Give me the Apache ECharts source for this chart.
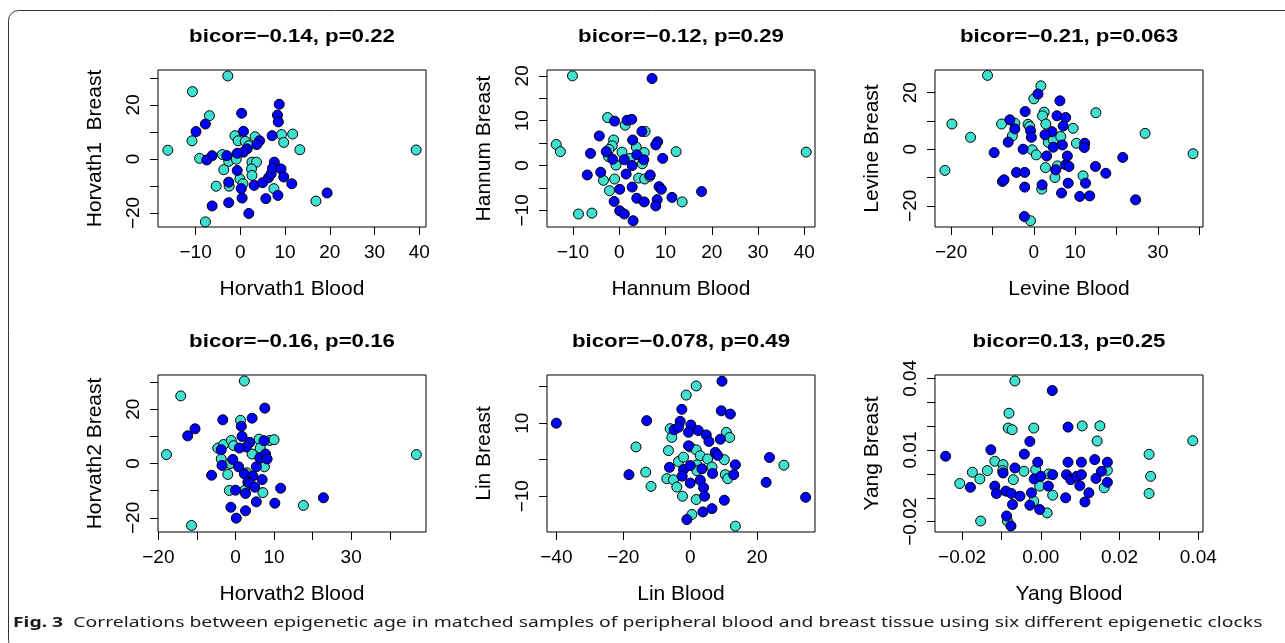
<!DOCTYPE html>
<html lang="en">
<head>
    <meta charset="UTF-8" />
    <title>Fig. 3 epigenetic clocks, blood vs breast</title>
    <script src="https://cdn.jsdelivr.net/npm/echarts@6/dist/echarts.min.js"></script>
    <style>
        html, body { margin: 0; padding: 0; background: #ffffff; }
        #main { width: 1285px; height: 643px; }
    </style>
</head>
<body>
    <div id="main"></div>
    <script type="text/javascript">
        // panel texts
        var panelTitles = ['bicor=\u22120.14, p=0.22', 'bicor=\u22120.12, p=0.29', 'bicor=\u22120.21, p=0.063',
            'bicor=\u22120.16, p=0.16', 'bicor=\u22120.078, p=0.49', 'bicor=0.13, p=0.25'];
        var xNames = ['Horvath1 Blood', 'Hannum Blood', 'Levine Blood', 'Horvath2 Blood', 'Lin Blood', 'Yang Blood'];
        var yNames = ['Horvath1  Breast', 'Hannum Breast', 'Levine Breast', 'Horvath2 Breast', 'Lin Breast', 'Yang Breast'];
        var caption = 'Correlations between epigenetic age in matched samples of peripheral blood and breast tissue using six different epigenetic clocks';

        // axis ranges and ticks
        var xRanges = [[-18.4, 41.5], [-15.6, 42.3], [-23.9, 40.9], [-20.1, 49.4], [-42.8, 37.3], [-0.0269, 0.0412]];
        var yRanges = [[-25.2, 32.9], [-13.7, 21.3], [-27.5, 28.0], [-25.2, 32.6], [-19.8, 23.2], [-0.0243, 0.0414]];
        var xTicks = [[-10, 0, 10, 20, 30, 40], [-10, 0, 10, 20, 30, 40], [-20, -10, 0, 10, 20, 30, 40],
            [-20, -10, 0, 10, 20, 30, 40], [-40, -20, 0, 20], [-0.02, -0.01, 0, 0.01, 0.02, 0.03, 0.04]];
        var xLabels = [[-10, 0, 10, 20, 30, 40], [-10, 0, 10, 20, 30, 40], [-20, 0, 10, 30],
            [-20, 0, 10, 30], [-40, -20, 0, 20], [-0.02, 0, 0.02, 0.04]];
        var yTicks = [[-20, -10, 0, 10, 20, 30], [-10, -5, 0, 5, 10, 15, 20], [-20, -10, 0, 10, 20],
            [-20, -10, 0, 10, 20, 30], [-10, 0, 10, 20], [-0.02, -0.01, 0, 0.01, 0.02, 0.03, 0.04]];
        var yLabels = [[-20, 0, 20], [-10, 0, 10, 20], [-20, 0, 20], [-20, 0, 20], [-10, 10], [-0.02, 0.01, 0.04]];

        // Horvath1
        var horvath1Turq = [[-2.8, 30.7], [-10.7, 24.9], [-6.9, 16.0], [-10.8, 6.7], [-16.2, 3.2], [-9.1, 0.2], [-4.0, 1.6],
            [-2.6, -0.9], [-0.9, -0.1], [-3.7, -4.0], [-5.4, -10.1], [-2.5, -10.1], [-0.1, -7.4], [0.6, -9.2], [-1.2, 8.6],
            [-0.5, 6.7], [1.1, 6.5], [3.3, 8.2], [2.6, -1.2], [3.6, -1.2], [2.5, -3.7], [2.6, -6.1], [7.5, -11.0], [9.2, 9.0],
            [11.7, 9.2], [9.7, 6.1], [13.3, 3.4], [16.9, -15.6], [-7.8, -23.3], [1.9, 4.9], [39.3, 3.3]];
        var horvath1Blue = [[0.3, 16.9], [8.7, 20.2], [8.3, 16.2], [8.5, 13.7], [-7.8, 12.9], [-9.9, 10.1], [0.7, 10.2],
            [7.1, 8.6], [4.3, 6.7], [3.7, 5.3], [1.5, 3.7], [0.7, 2.5], [-0.7, 2.1], [-3.0, 1.2], [-6.3, 1.2], [-7.5, -0.4],
            [-0.7, -4.3], [-2.6, -8.6], [0.2, -11.0], [0.4, -14.5], [3.1, -9.8], [5.0, -8.8], [6.3, -7.0], [6.9, -5.5],
            [7.6, -1.2], [7.2, -3.4], [9.1, -3.7], [9.7, -6.7], [11.5, -9.2], [8.4, -13.5], [5.7, -14.7], [-6.3, -17.4],
            [-2.6, -16.2], [1.9, -20.2], [19.4, -12.6]];

        // Hannum
        var hannumTurq = [[-10.1, 20.0], [-13.6, 4.7], [-12.7, 3.1], [-8.8, -10.8], [-5.9, -10.6], [-2.5, 10.7], [1.3, 9.0],
            [5.6, 7.6], [-1.2, 5.7], [-1.5, 4.4], [-2.2, 3.6], [-2.3, 2.0], [0.6, 3.0], [3.7, 4.1], [5.4, 2.9], [5.0, 0.4],
            [-0.7, 0.1], [-3.4, -3.3], [-1.0, -3.0], [-2.1, -5.6], [4.2, -2.8], [5.5, -3.0], [6.6, -2.4], [12.3, 3.1],
            [13.6, -8.1], [40.4, 3.0], [2.4, 1.6]];
        var hannumBlue = [[7.1, 19.4], [-1.0, 9.9], [1.7, 10.1], [2.7, 10.3], [4.9, 7.6], [-4.3, 6.6], [2.9, 5.7], [8.3, 5.3],
            [7.9, 4.6], [-6.2, 2.7], [-2.8, 3.1], [-1.4, 1.4], [1.1, 1.3], [3.8, 2.4], [5.3, 1.3], [9.4, 1.6], [2.8, 0.0],
            [1.5, -1.9], [-6.9, -2.1], [-4.0, -1.5], [6.7, -2.1], [0.1, -5.3], [2.8, -4.8], [8.6, -4.7], [9.1, -5.3],
            [-1.1, -8.0], [3.8, -7.3], [5.4, -8.1], [8.2, -7.6], [7.9, -9.0], [11.4, -7.1], [17.8, -5.8], [0.1, -10.1],
            [1.1, -10.8], [3.0, -12.3]];

        // Levine
        var levineTurq = [[-11.2, 26.1], [1.7, 22.4], [0.0, 17.8], [-19.8, 8.9], [-15.3, 4.2], [-21.5, -7.5], [-7.8, 8.9],
            [-4.6, 9.2], [-5.2, 4.7], [-1.4, 8.8], [-1.0, 8.0], [2.5, 13.1], [2.1, 11.8], [2.9, 8.9], [3.5, 2.4], [4.7, 3.3],
            [6.5, 4.5], [9.5, 7.4], [10.3, 2.1], [15.0, 12.9], [26.9, 5.6], [38.5, -1.6], [-0.4, -0.2], [0.6, -2.0],
            [2.8, -6.5], [5.7, -5.9], [5.1, -10.0], [11.9, -9.4], [1.9, -14.1], [-0.8, -25.3]];
        var levineBlue = [[1.0, 19.5], [6.3, 17.1], [-2.1, 13.3], [5.6, 11.8], [7.7, 11.2], [-5.8, 10.4], [-4.6, 7.2],
            [7.1, 8.2], [-0.8, 6.5], [4.4, 6.2], [2.7, 5.1], [-0.6, 4.2], [-6.2, 2.5], [6.9, 1.5], [4.7, 0.7], [12.3, 2.1],
            [12.2, 0.6], [-2.6, 0.0], [-9.6, -1.2], [3.1, -2.4], [8.1, -2.4], [7.7, -5.5], [8.5, -6.1], [5.3, -7.3],
            [14.9, -6.1], [21.5, -2.9], [17.4, -8.5], [-4.2, -8.2], [-2.2, -8.2], [-7.6, -11.4], [-7.2, -10.8],
            [-2.2, -13.4], [2.0, -12.6], [8.3, -12.0], [12.5, -12.0], [6.7, -15.5], [11.1, -16.7], [13.5, -16.5],
            [24.6, -17.9], [-2.3, -23.8]];

        // Horvath2
        var horvath2Turq = [[2.3, 30.4], [-14.2, 24.9], [-17.9, 3.3], [-11.4, -22.8], [1.3, 15.9], [-4.6, 5.7], [-3.1, 7.0],
            [-1.1, 8.5], [-0.5, 6.6], [-3.7, 1.7], [-1.4, 0.0], [-2.0, -4.0], [-1.6, -9.9], [2.3, -9.9], [2.9, -3.4],
            [4.3, 3.5], [6.1, 9.0], [8.9, 8.5], [10.0, 8.8], [6.4, 5.7], [7.5, -1.2], [7.1, -10.7], [17.6, -15.4],
            [46.9, 3.3]];
        var horvath2Blue = [[7.6, 20.4], [-3.3, 16.1], [4.3, 16.7], [-10.5, 12.8], [-12.4, 10.2], [1.7, 10.0], [1.5, 13.7],
            [3.7, 7.8], [7.4, 8.4], [-3.7, 5.1], [2.8, 6.1], [1.0, 5.7], [6.3, 2.1], [7.8, 3.5], [8.2, 1.7], [-3.5, -0.7],
            [-0.7, 1.5], [0.8, -1.2], [5.4, -1.2], [-6.2, -4.3], [2.3, -3.8], [4.5, -4.6], [3.2, -6.8], [6.9, -5.9],
            [3.7, -7.3], [5.0, -8.7], [0.0, -9.8], [2.6, -11.0], [11.7, -9.1], [5.4, -14.1], [10.2, -14.6], [-1.2, -16.1],
            [2.6, -17.4], [0.2, -20.1], [22.8, -12.6]];

        // Lin
        var linTurq = [[1.8, 20.2], [-1.2, 17.7], [-16.2, 3.5], [-13.3, -3.4], [-11.7, -7.3], [-6.0, 8.5], [-5.5, 6.1],
            [-6.5, 2.5], [-7.0, -5.2], [-5.0, -5.5], [-3.5, -0.5], [-2.0, 0.7], [-4.0, -7.5], [-2.3, -10.0], [0.0, 3.5],
            [1.8, 2.7], [3.0, 1.1], [2.0, -1.4], [5.2, 0.2], [6.5, -2.0], [2.0, -3.0], [10.2, 0.0], [10.8, 7.5],
            [11.8, 6.1], [10.5, -4.1], [11.2, -5.2], [28.0, -1.5], [1.8, -10.9], [0.5, -15.0], [13.5, -18.2]];
        var linBlue = [[-40.0, 10.0], [-18.3, -4.1], [-13.0, 10.7], [9.5, 21.5], [-2.5, 13.8], [9.3, 13.4], [12.0, 12.5],
            [-3.0, 10.5], [-4.8, 8.2], [-3.5, 8.9], [0.2, 9.5], [-0.5, 7.5], [2.4, 8.0], [4.8, 6.8], [5.6, 5.0], [9.0, 5.6],
            [-0.5, 3.8], [7.5, 2.0], [8.2, 1.2], [-6.2, -2.1], [-2.0, -2.7], [-2.4, -4.5], [0.0, -1.6], [3.5, -2.5],
            [6.7, -3.8], [3.0, -5.6], [0.0, -6.4], [4.0, -7.7], [4.3, -10.0], [10.2, -11.1], [13.5, -1.4], [13.0, -4.1],
            [22.7, -6.2], [23.7, 0.6], [34.5, -10.3], [6.5, -13.4], [3.8, -14.3], [-1.0, -16.4]];

        // Yang
        var yangTurq = [[-0.0066, 0.0389], [-0.0081, 0.0254], [-0.0083, 0.0192], [-0.0073, 0.0185], [-0.0018, 0.0192],
            [0.0105, 0.0201], [0.0150, 0.0201], [0.0143, 0.0138], [0.0386, 0.0139], [0.0275, 0.0082], [0.0279, -0.0010],
            [0.0275, -0.0082], [-0.0206, -0.0040], [-0.0174, 0.0007], [-0.0155, -0.0021], [-0.0136, 0.0014],
            [-0.0117, 0.0053], [-0.0096, 0.0039], [-0.0097, 0.0014], [-0.0070, -0.0024], [-0.0043, 0.0011],
            [-0.0013, 0.0018], [0.0020, 0.0000], [-0.0003, -0.0051], [0.0030, -0.0089], [-0.0018, -0.0114],
            [0.0016, -0.0163], [-0.0153, -0.0197], [-0.0085, -0.0197], [0.0161, -0.0058], [0.0169, 0.0015]];
        var yangBlue = [[-0.0242, 0.0074], [-0.0179, -0.0056], [-0.0127, 0.0101], [-0.0117, -0.0051], [-0.0113, -0.0082],
            [-0.0096, 0.0004], [-0.0089, -0.0072], [-0.0075, -0.0082], [-0.0072, -0.0128], [-0.0087, -0.0176],
            [-0.0076, -0.0218], [-0.0066, 0.0025], [-0.0053, -0.0093], [-0.0042, 0.0083], [-0.0028, 0.0136],
            [-0.0024, -0.0079], [-0.0028, -0.0131], [-0.0017, -0.0021], [-0.0008, 0.0049], [0.0000, -0.0010],
            [-0.0003, -0.0149], [0.0019, -0.0051], [0.0030, -0.0003], [0.0029, 0.0349], [0.0063, -0.0100],
            [0.0069, 0.0196], [0.0069, 0.0049], [0.0065, -0.0003], [0.0076, -0.0024], [0.0091, -0.0010],
            [0.0103, 0.0049], [0.0103, -0.0003], [0.0099, -0.0049], [0.0112, -0.0117], [0.0122, -0.0079],
            [0.0137, 0.0060], [0.0140, -0.0019], [0.0154, 0.0011], [0.0169, 0.0049], [0.0169, -0.0035]];

        var turqSets = [horvath1Turq, hannumTurq, levineTurq, horvath2Turq, linTurq, yangTurq];
        var blueSets = [horvath1Blue, hannumBlue, levineBlue, horvath2Blue, linBlue, yangBlue];

        var chartDom = document.getElementById('main');
        var myChart = echarts.init(chartDom);
        var option;

        var font = '"Liberation Sans", Arial, Helvetica, sans-serif';
        var gridLefts = [158, 547, 935];
        var gridTops = [70, 375];

        function fmt(digits) {
            return function (v) {
                var s = digits ? v.toFixed(digits) : String(Math.round(v));
                if (s.charAt(0) === '-') s = '\u2212' + s.slice(1);
                return s;
            };
        }

        var grids = [], xAxes = [], yAxes = [], series = [], graphics = [];

        // outer frame
        graphics.push({
            type: 'rect', silent: true, z: 0,
            shape: { x: 8.5, y: 10.5, width: 1320, height: 640, r: 10 },
            style: { fill: 'none', stroke: '#333333', lineWidth: 1 }
        });

        for (var i = 0; i < 6; i++) {
            var col = i % 3, row = Math.floor(i / 3);
            var digits = i === 5 ? 2 : 0;
            grids.push({
                left: gridLefts[col], top: gridTops[row], width: 268, height: 157,
                show: true, borderColor: '#000', borderWidth: 1, backgroundColor: 'transparent'
            });
            xAxes.push({
                type: 'value', gridIndex: i, min: xRanges[i][0], max: xRanges[i][1],
                name: xNames[i], nameLocation: 'middle', nameGap: 52,
                nameTextStyle: { fontSize: 21, color: '#000', fontFamily: font },
                axisLine: { show: false, onZero: false },
                axisTick: { show: true, length: 8, customValues: xTicks[i], lineStyle: { color: '#000' } },
                axisLabel: { customValues: xLabels[i], formatter: fmt(digits), fontSize: 19, color: '#000', fontFamily: font, margin: 16 },
                splitLine: { show: false }
            });
            yAxes.push({
                type: 'value', gridIndex: i, min: yRanges[i][0], max: yRanges[i][1],
                name: yNames[i], nameLocation: 'middle', nameGap: 52,
                nameTextStyle: { fontSize: 21, color: '#000', fontFamily: font },
                axisLine: { show: false, onZero: false },
                axisTick: { show: true, length: 8, customValues: yTicks[i], lineStyle: { color: '#000' } },
                axisLabel: { customValues: yLabels[i], formatter: fmt(digits), rotate: 90, fontSize: 19, color: '#000', fontFamily: font, margin: 15 },
                splitLine: { show: false }
            });
            series.push({
                name: 'turquoise ' + i, type: 'scatter', xAxisIndex: i, yAxisIndex: i,
                data: turqSets[i], symbolSize: 10,
                itemStyle: { color: '#40E0D0', borderColor: '#000', borderWidth: 1, opacity: 1 }
            });
            series.push({
                name: 'blue ' + i, type: 'scatter', xAxisIndex: i, yAxisIndex: i,
                data: blueSets[i], symbolSize: 10,
                itemStyle: { color: '#0000FF', borderColor: '#000', borderWidth: 1, opacity: 1 }
            });
            graphics.push({
                type: 'text', silent: true,
                x: gridLefts[col] + 134, y: gridTops[row] - 33, scaleX: 1.17,
                style: {
                    text: panelTitles[i], fontSize: 19, fontWeight: 'bold', fontFamily: font,
                    fill: '#000', align: 'center', verticalAlign: 'middle'
                }
            });
        }

        // figure caption
        graphics.push({
            type: 'text', silent: true, x: 13, y: 623, scaleX: 1.29,
            style: {
                text: '{b|Fig. 3}  ' + caption,
                fontSize: 15, fontFamily: '"Noto Sans", "Open Sans", sans-serif', fill: '#1a1a1a',
                verticalAlign: 'middle', align: 'left',
                rich: { b: { fontWeight: 'bold', fontSize: 15, fontFamily: '"Noto Sans", sans-serif', fill: '#1a1a1a' } }
            }
        });

        option = {
            animation: false,
            backgroundColor: '#ffffff',
            grid: grids,
            xAxis: xAxes,
            yAxis: yAxes,
            series: series,
            graphic: graphics
        };
        option && myChart.setOption(option);
    </script>
</body>
</html>
